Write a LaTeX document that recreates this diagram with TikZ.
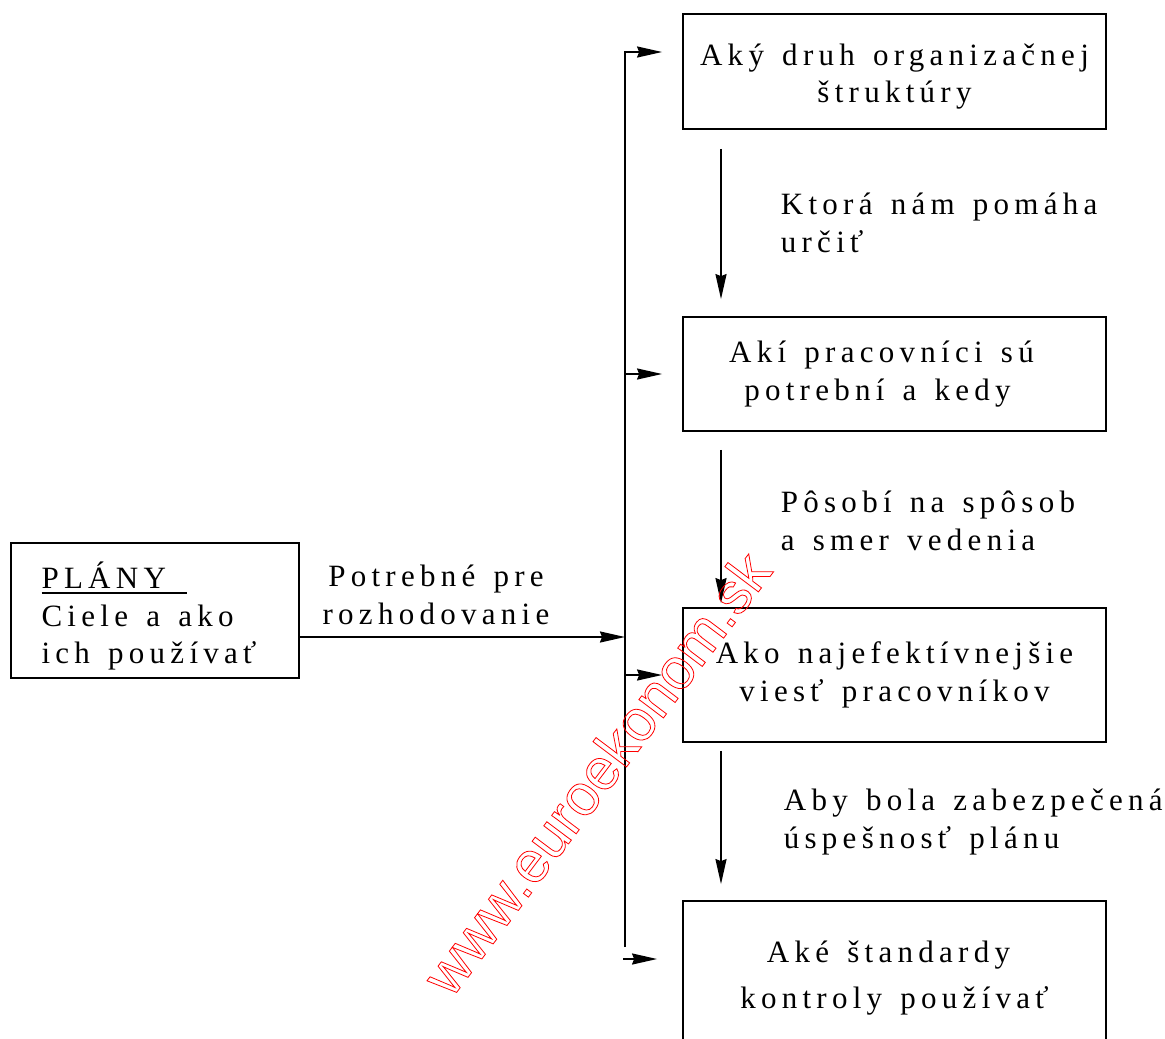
\documentclass[tikz,border=0pt]{standalone}
\usepackage{fontspec}
\setmainfont{Liberation Serif}[LetterSpace=17,WordSpace=1.4]
\newfontfamily\wmfont{Liberation Sans}
\usetikzlibrary{arrows.meta}
\begin{document}
\begin{tikzpicture}[x=1pt,y=-1pt,line width=1.8pt,
  every node/.style={font=\fontsize{31}{37.5}\selectfont},
  box/.style={draw,line width=1.8pt,minimum width=423pt,align=center,inner sep=0pt},
  arr/.style={-{Stealth[length=25pt,width=11pt,inset=2pt]},line width=1.8pt},
  lbl/.style={align=left,anchor=base west,inner sep=0pt},
  wm/.style={text=red,font=\wmfont\fontsize{58}{60}\selectfont,inner sep=0pt}]
\useasboundingbox (0,0) rectangle (1165,1039);
\clip (0,0) rectangle (1165,1039);
% boxes
\node[box,minimum height=115pt] (b1) at (894.5,71.5) {\rule{0pt}{32pt}Aký druh organizačnej\\štruktúry};
\node[box,minimum height=114pt] (b2) at (894.5,374) {Akí pracovníci sú\kern26pt\\potrební a kedy\kern34pt};
\node[box,minimum height=134pt] (b3) at (894.5,675) {Ako najefektívnejšie\\viesť pracovníkov};
\node[box,minimum height=154pt] (b4) at (894.5,978) {Aké štandardy\kern12pt\\[9pt]kontroly používať};
\node[draw,line width=1.8pt,minimum width=288pt,minimum height=135pt,inner sep=0pt,align=left] (plany) at (155,610.5)
  {\rule{0pt}{38pt}\rlap{\rule[-5.5pt]{145pt}{1.8pt}}PLÁNY\\Ciele a ako\\ich používať\kern12pt};
% labels
\node[lbl] (l1) at (780,252) {Ktorá nám pomáha\\určiť};
\node[lbl] (l2) at (780,550) {Pôsobí na spôsob\\a smer vedenia};
\node[lbl] (l3) at (783,848) {Aby bola zabezpečená\\úspešnosť plánu};
\node[align=center,inner sep=0pt,anchor=base] (l0) at (436,624) {Potrebné pre\\rozhodovanie};
% bus
\coordinate (bt) at (625,52);
\coordinate (bb) at (625,947);
\coordinate (ax) at (721,0);
\coordinate (pin) at (299,637);
\coordinate (j4) at (623,959);
\draw[arr,shorten >=20pt] (bb) -- (bt) -- (bt -| b1.west);
\draw[arr,shorten >=20pt] (b2.west -| bt) -- (b2.west);
\draw[arr,shorten >=20pt] (b3.west -| bt) -- (b3.west);
\draw[arr,shorten >=25pt] (j4) -- (j4 -| b4.west);
\draw[arr] (pin) -- (pin -| bt);
% vertical arrows
\draw[arr,shorten <=19pt,shorten >=17pt] (b1.south -| ax) -- (b2.north -| ax);
\draw[arr,shorten <=18pt,shorten >=4pt] (b2.south -| ax) -- (b3.north -| ax);
\draw[arr,shorten <=8pt,shorten >=16pt] (b3.south -| ax) -- (b4.north -| ax);
% watermark
\node[wm,rotate=53] (wmk) at (596,773) {\special{pdf:literal direct 1 Tr 0.8 w}www.euroekonom.sk\special{pdf:literal direct 0 Tr}};
\end{tikzpicture}
\end{document}
